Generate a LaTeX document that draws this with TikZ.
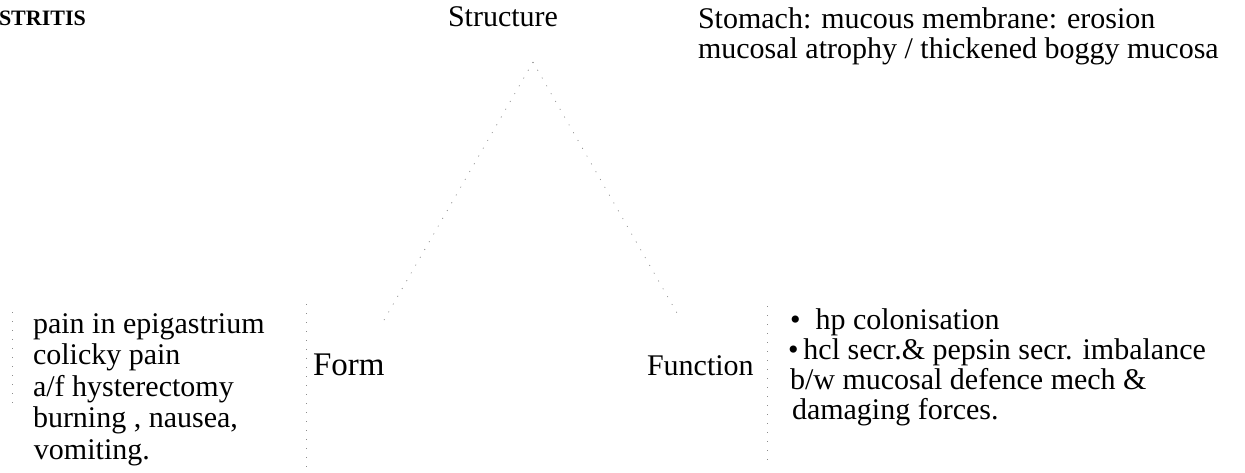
\documentclass[tikz,border=0pt]{standalone}
\usepackage{fontspec}
\setmainfont{Liberation Serif}
\begin{document}
\begin{tikzpicture}[x=1pt,y=-1pt,
  txt/.style={inner sep=0pt,outer sep=0pt,anchor=base west,font=\fontsize{30}{30}\selectfont},
  big/.style={inner sep=0pt,outer sep=0pt,anchor=base west,font=\fontsize{33}{33}\selectfont},
  ttl/.style={inner sep=0pt,outer sep=0pt,anchor=base west,font=\fontsize{22}{22}\selectfont\bfseries},
  faint/.style={draw=black!45,line width=0.7pt,dash pattern=on 1pt off 8pt}]
\useasboundingbox (0,0) rectangle (1245,472);
% top row
\node[ttl] (title) at (-1,25) {STRITIS};
\node[txt] (structure) at (448,26) {Structure};
\node[txt] (stom1) at (698,28) {Stomach: mucous membrane: erosion};
\node[txt] (stom2) at (698,58) {mucosal atrophy / thickened boggy mucosa};
% bottom row
\node[txt] (l1) at (33,333) {pain in epigastrium};
\node[txt] (l2) at (33,364.5) {colicky pain};
\node[txt] (l3) at (33,396) {a/f hysterectomy};
\node[txt] (l4) at (33,427.5) {burning , nausea,};
\node[txt] (l5) at (34,459) {vomiting.};
\node[big] (form) at (313,375) {Form};
\node[txt] (function) at (647,375) {Function};
\node[txt] (b1) at (790,329) {\textbullet\ \ hp colonisation};
\node[txt] (b2) at (788,359) {\textbullet\,hcl secr.\& pepsin secr. imbalance};
\node[txt] (b3) at (790,389) {b/w mucosal defence mech \&};
\node[txt] (b4) at (792,419) {damaging forces.};
% faint connector traces
\coordinate (apex) at (533,62);
\coordinate (formend) at (380,327);
\coordinate (funcend) at (677,313);
\draw[faint] (apex) -- (formend);
\draw[faint] (apex) -- (funcend);
\coordinate (v1a) at (12,312); \coordinate (v1b) at (12,410);
\coordinate (v2a) at (306,304); \coordinate (v2b) at (306,468);
\coordinate (v3a) at (767,306); \coordinate (v3b) at (767,462);
\draw[faint] (v1a) -- (v1b);
\draw[faint] (v2a) -- (v2b);
\draw[faint] (v3a) -- (v3b);
\end{tikzpicture}
\end{document}
